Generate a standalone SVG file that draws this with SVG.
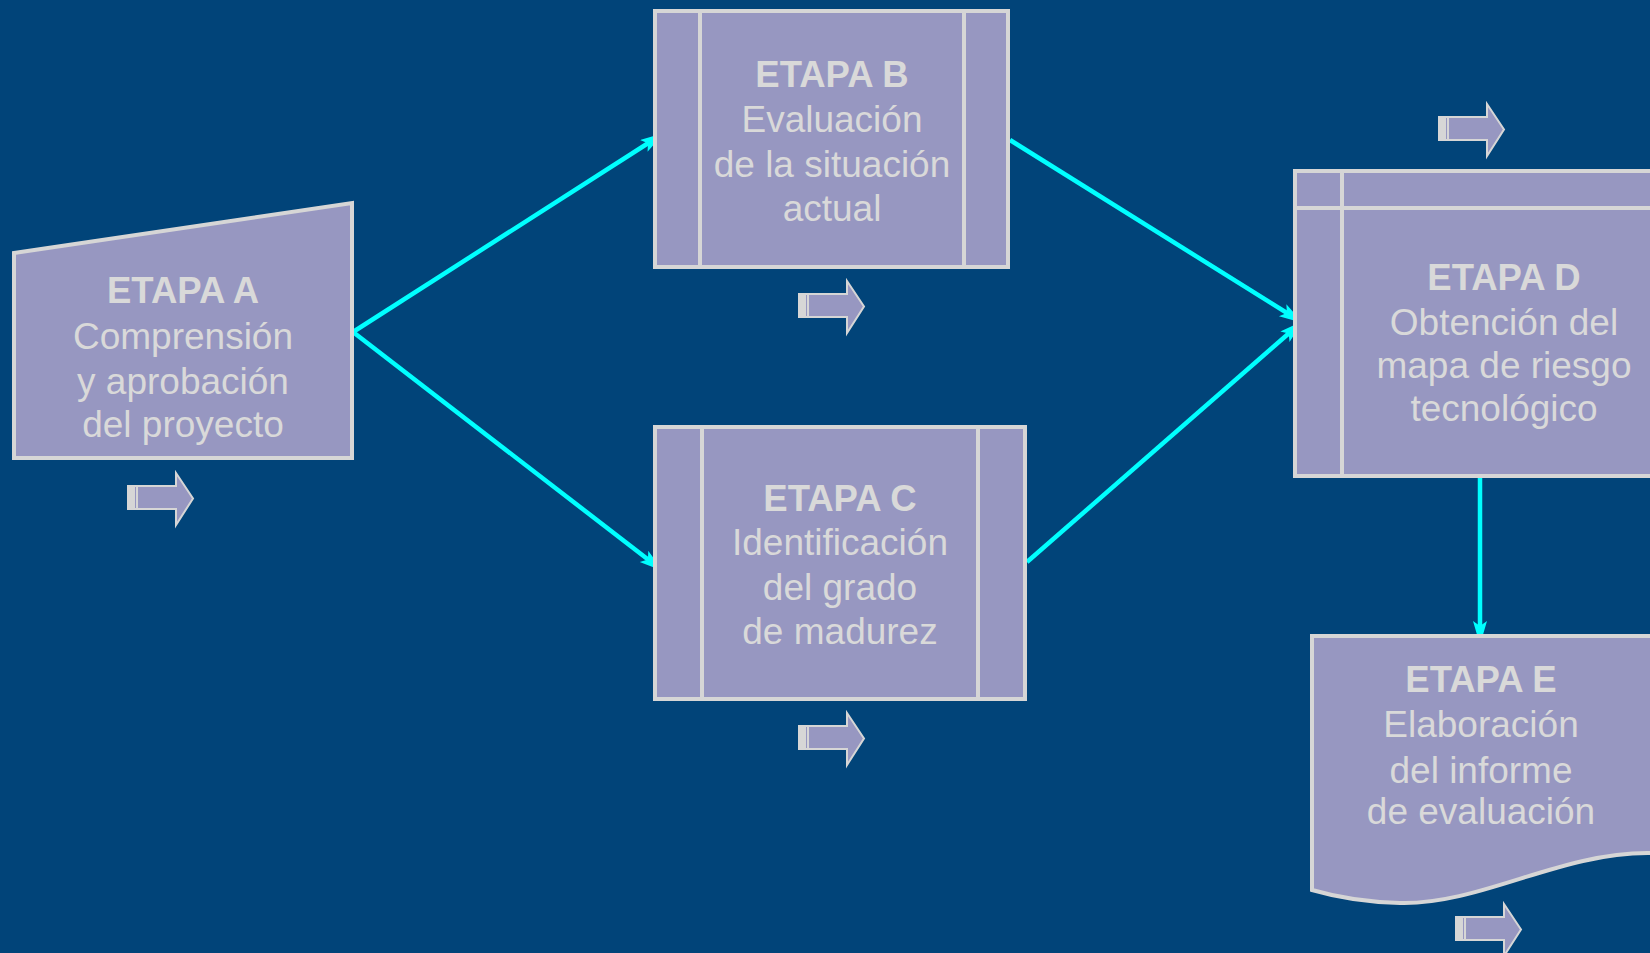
<svg xmlns="http://www.w3.org/2000/svg" width="1650" height="953" viewBox="0 0 1650 953">
<style>
.bg{fill:#014479}
.node{fill:#9797c1;stroke:#d6d6d6;stroke-width:4}
.div{stroke:#d6d6d6;stroke-width:4;fill:none}
.t{font-family:"Liberation Sans",Arial,sans-serif;fill:#d9d9d9;text-anchor:middle;font-size:37px}
.b{font-weight:bold;font-size:36.5px}
.conn{stroke:#00ffff;stroke-width:4.5;fill:none}
.barrow{fill:#9797c1;stroke:#d6d6d6;stroke-width:2}
</style>
<defs>
<marker id="ah" markerUnits="userSpaceOnUse" markerWidth="28" markerHeight="16" refX="24" refY="7" orient="auto">
<path d="M0,0 L24,7 L0,14 L5,7 z" fill="#00ffff"/>
</marker>
<g id="blk">
<path class="barrow" d="M1,14 L49,14 L49,1 L66,26.5 L49,53 L49,37 L1,37 z"/>
<rect x="1" y="14" width="7" height="23" fill="#d6d6d6"/>
<line x1="10" y1="14" x2="10" y2="37" stroke="#d6d6d6" stroke-width="2"/>
</g>
</defs>
<rect class="bg" x="0" y="0" width="1650" height="953"/>

<g id="connectors">
<line class="conn" x1="353" y1="332" x2="664" y2="133" marker-end="url(#ah)"/>
<line class="conn" x1="353" y1="332" x2="663" y2="571" marker-end="url(#ah)"/>
<line class="conn" x1="1010" y1="140" x2="1303" y2="323" marker-end="url(#ah)"/>
<line class="conn" x1="1027" y1="562" x2="1303" y2="321" marker-end="url(#ah)"/>
<line class="conn" x1="1480" y1="477" x2="1480" y2="645" marker-end="url(#ah)"/>
</g>

<g id="nodeA">
<path class="node" d="M14,253 L352,203 L352,458 L14,458 z"/>
<text class="t b" x="183" y="303">ETAPA A</text>
<text class="t" x="183" y="349">Comprensión</text>
<text class="t" x="183" y="394">y aprobación</text>
<text class="t" x="183" y="437">del proyecto</text>
<use href="#blk" x="127" y="472"/>
</g>

<g id="nodeB">
<rect class="node" x="655" y="11" width="353" height="256"/>
<line class="div" x1="700" y1="11" x2="700" y2="267"/>
<line class="div" x1="964" y1="11" x2="964" y2="267"/>
<text class="t b" x="832" y="87">ETAPA B</text>
<text class="t" x="832" y="132">Evaluación</text>
<text class="t" x="832" y="177">de la situación</text>
<text class="t" x="832" y="221">actual</text>
<use href="#blk" x="798" y="280"/>
</g>

<g id="nodeC">
<rect class="node" x="655" y="427" width="370" height="272"/>
<line class="div" x1="702" y1="427" x2="702" y2="699"/>
<line class="div" x1="978" y1="427" x2="978" y2="699"/>
<text class="t b" x="840" y="511">ETAPA C</text>
<text class="t" x="840" y="555">Identificación</text>
<text class="t" x="840" y="600">del grado</text>
<text class="t" x="840" y="644">de madurez</text>
<use href="#blk" x="798" y="712"/>
</g>

<g id="nodeD">
<rect class="node" x="1295" y="171" width="400" height="305"/>
<line class="div" x1="1342" y1="171" x2="1342" y2="476"/>
<line class="div" x1="1295" y1="208" x2="1660" y2="208"/>
<text class="t b" x="1504" y="290">ETAPA D</text>
<text class="t" x="1504" y="335">Obtención del</text>
<text class="t" x="1504" y="378">mapa de riesgo</text>
<text class="t" x="1504" y="421">tecnológico</text>
<use href="#blk" x="1438" y="103"/>
</g>

<g id="nodeE">
<path class="node" d="M1312,636 L1660,636 L1660,853 L1650,853 C1560,852 1480,905 1400,903 C1362,902 1336,897 1312,890 z"/>
<text class="t b" x="1481" y="692">ETAPA E</text>
<text class="t" x="1481" y="737">Elaboración</text>
<text class="t" x="1481" y="783">del informe</text>
<text class="t" x="1481" y="824">de evaluación</text>
<use href="#blk" x="1455" y="903"/>
</g>
</svg>
